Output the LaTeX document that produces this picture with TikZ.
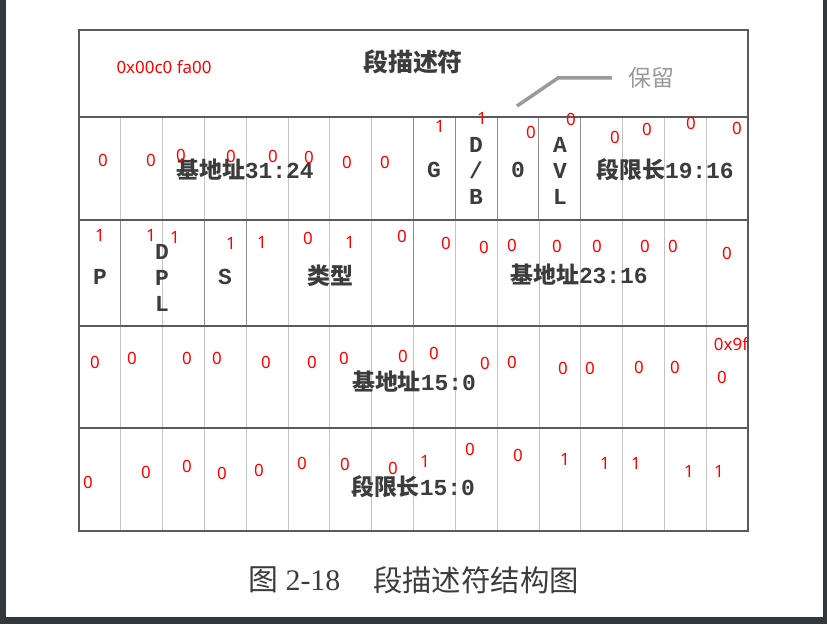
\documentclass[tikz,border=0pt]{standalone}
\usepackage{fontspec}
\setmainfont{Liberation Serif}
\newfontfamily\cjk{Noto Sans CJK SC}
\newfontfamily\monof{Liberation Mono}
\newfontfamily\redf{Noto Sans}
\definecolor{frame}{HTML}{33383C}
\definecolor{ink}{HTML}{3C3C3C}
\definecolor{rulec}{HTML}{5A5A5A}
\definecolor{lightc}{HTML}{C4C4C4}
\definecolor{darkc}{HTML}{8E8E8E}
\definecolor{keepc}{HTML}{9A9A9A}
\definecolor{ovl}{HTML}{FF0000}
\tikzset{
  lbl/.style={text=ink, font=\monof\bfseries\fontsize{23}{26}\selectfont, inner sep=0pt, align=center},
  cjklbl/.style={text=ink, font=\cjk\bfseries\fontsize{23}{26}\selectfont, inner sep=0pt},
  caption/.style={text=ink, font=\fontsize{30}{32}\selectfont, inner sep=0pt},
  redtxt/.style={text=ovl, font=\redf\fontsize{17}{18}\selectfont, inner sep=0pt},
  rulel/.style={draw=rulec, line width=2bp},
  thinv/.style={draw=lightc, line width=0.8bp},
  darkv/.style={draw=darkc, line width=1.1bp},
}
\def\cw{41.8125}
\begin{document}
\begin{tikzpicture}[x=1bp,y=-1bp]
\useasboundingbox (0,0) rectangle (827,624);
\fill[white] (0,0) rectangle (827,624);
% dark frame of the screenshot
\fill[frame] (0,0) rectangle (6,624);
\fill[frame] (823,0) rectangle (827,624);
\fill[frame] (0,617) rectangle (827,624);

% row 1 verticals
\foreach \i in {1,...,7,13,14,15} \draw[thinv] ({79+\i*\cw},117) -- ({79+\i*\cw},220);
\foreach \i in {8,...,12} \draw[darkv] ({79+\i*\cw},117) -- ({79+\i*\cw},220);
% row 2 verticals
\foreach \i in {2,5,6,7,9,10,11,12,13,14,15} \draw[thinv] ({79+\i*\cw},220) -- ({79+\i*\cw},326);
\foreach \i in {1,3,4,8} \draw[darkv] ({79+\i*\cw},220) -- ({79+\i*\cw},326);
% rows 3 and 4 verticals
\foreach \i in {1,...,15} \draw[thinv] ({79+\i*\cw},326) -- ({79+\i*\cw},531);

% outline and horizontal rules
\draw[rulel] (79,30) rectangle (748,531);
\foreach \yy in {117,220,326,428} \draw[rulel] (79,\yy) -- (748,\yy);

% header
\node[cjklbl, font=\cjk\bfseries\fontsize{25}{28}\selectfont] (title) at (413,62) {段描述符};
\node[cjklbl, text=keepc, font=\cjk\fontsize{23}{26}\selectfont] (keep) at (651,78) {保留};
\coordinate (lead0) at (517,106);
\coordinate (lead1) at (558,78);
\draw[draw=keepc, line width=3.5bp] (lead0) -- (lead1) -- ([xshift=-16bp]keep.west |- lead1);

% row 1
\node[lbl] (b3124) at (245,170) {{\cjk 基地址}31:24};
\node[lbl] (g) at (434,170) {G};
\node[lbl] (db) at (476,171) {D\\/\\B};
\node[lbl] (zero) at (518,170) {0};
\node[lbl] (avl) at (560,171) {A\\V\\L};
\node[lbl] (l1916) at (665,170) {{\cjk 段限长}19:16};
% row 2
\node[lbl] (p) at (100,277) {P};
\node[lbl] (dpl) at (162,278) {D\\P\\L};
\node[lbl] (s) at (225,277) {S};
\node[cjklbl] (type) at (330,276) {类型};
\node[lbl] (b2316) at (579,275) {{\cjk 基地址}23:16};
% row 3, 4
\node[lbl] (b150) at (414,382) {{\cjk 基地址}15:0};
\node[lbl] (l150) at (413,487) {{\cjk 段限长}15:0};

% caption
\node[caption, anchor=west] (cap1) at (248,580) {{\cjk 图} 2-18};
\node[caption, anchor=west, font=\cjk\fontsize{29.5}{32}\selectfont] (cap2) at (373,580) {段描述符结构图};

% red overlay
\node[redtxt] (hex1) at (164,67) {0x00c0 fa00};
\node[redtxt] (hex2) at (731,344) {0x9f};
\foreach \x/\y/\t [count=\k] in {
 103/160/0, 151/160/0, 181/155/0, 231/156/0, 273/156/0, 309/157/0, 347/162/0, 385/162/0,
 440/126/1, 482/118/1, 531/132/0, 571/119/0, 615/137/0, 647/129/0, 691/123/0, 737/128/0,
 100/235/1, 151/235/1, 175/237/1, 231/243/1, 262/242/1, 308/238/0, 350/242/1, 402/236/0,
 446/243/0, 484/247/0, 512/245/0, 557/246/0, 597/246/0, 645/246/0, 673/246/0, 727/253/0,
 95/362/0, 132/358/0, 187/358/0, 217/358/0, 266/362/0, 312/362/0, 344/358/0, 403/356/0,
 434/353/0, 485/363/0, 512/362/0, 563/368/0, 590/368/0, 639/367/0, 675/367/0, 722/377/0,
 88/482/0, 146/472/0, 187/466/0, 222/473/0, 259/470/0, 302/463/0, 345/464/0, 393/468/0,
 425/461/1, 470/449/0, 518/455/0, 565/459/1, 605/463/1, 636/463/1, 689/471/1, 719/471/1}
 \node[redtxt] (bit\k) at (\x,\y) {\t};
\end{tikzpicture}
\end{document}
